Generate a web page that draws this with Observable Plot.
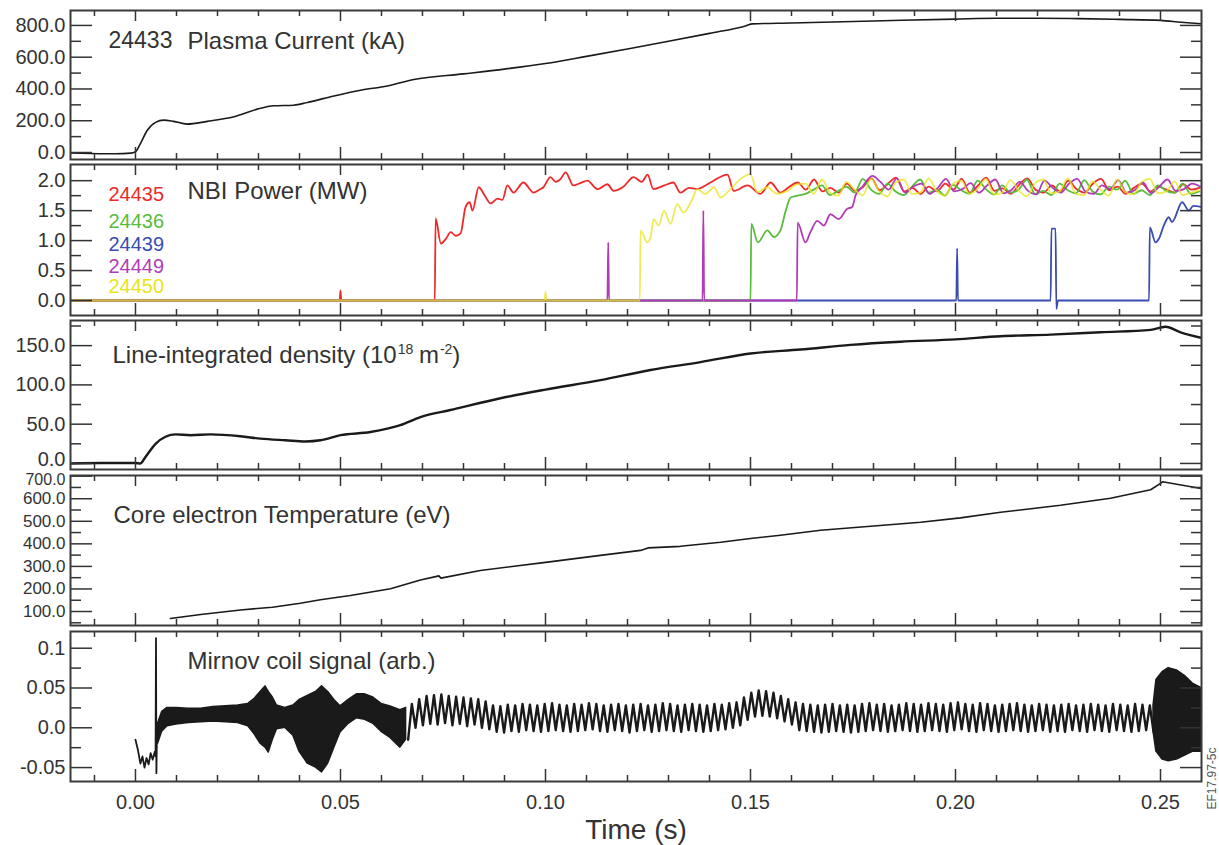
<!DOCTYPE html>
<html><head><meta charset="utf-8">
<script src="https://cdn.jsdelivr.net/npm/d3@7"></script>
<script src="https://cdn.jsdelivr.net/npm/@observablehq/plot@0.6"></script>
<style>
body{margin:0;background:#fff;}
#chart{position:relative;width:1219px;height:845px;overflow:hidden;font-family:"Liberation Sans",Arial,sans-serif;}
#chart svg{position:absolute;left:0;overflow:visible;}
</style>
</head><body><div id="chart"></div>
<script>
// ---------- shared axis data ----------
const timeDomain = [-0.01585, 0.26];
const xMajorTicks = [0, 0.05, 0.10, 0.15, 0.20, 0.25];
const xMinorTicks = [-0.01, 0.01, 0.02, 0.03, 0.04, 0.06, 0.07, 0.08, 0.09, 0.11, 0.12, 0.13, 0.14, 0.16, 0.17, 0.18, 0.19, 0.21, 0.22, 0.23, 0.24];

const plasmaTicks = [0, 200, 400, 600, 800], plasmaMinor = [100, 300, 500, 700];
const nbiTicks = [0, 0.5, 1.0, 1.5, 2.0], nbiMinor = [0.25, 0.75, 1.25, 1.75];
const densityTicks = [0, 50, 100, 150], densityMinor = [25, 75, 125, 175];
const tempTicks = [100, 200, 300, 400, 500, 600, 700], tempMinor = [50, 150, 250, 350, 450, 550, 650];
const mirnovTicks = [-0.05, 0, 0.05, 0.1], mirnovMinor = [-0.025, 0.025, 0.075];
const mirnovTickLabels = ["-0.05", "0.0", "0.05", "0.1"];

// ---------- series (time s, value) ----------
const plasmaShot = "24433";
const plasmaCurrent = [[-0.0159,-3],[-0.011,-6],[-0.0049,-8],[-0.0012,-4],[0.0,5],[0.0012,56],[0.0028,137],[0.0049,190],[0.0069,204],[0.0093,196],[0.0126,179],[0.0175,196],[0.024,225],[0.0297,273],[0.0337,294],[0.0386,298],[0.0419,315],[0.0484,356],[0.0549,392],[0.0614,419],[0.0679,460],[0.08,495],[0.09,525],[0.10,560],[0.11,605],[0.12,652],[0.13,700],[0.14,750],[0.1488,797],[0.1505,810],[0.16,815],[0.18,828],[0.20,840],[0.21,845],[0.22,845],[0.23,843],[0.24,838],[0.25,832],[0.255,820],[0.26,810]];

const nbiShots = ["24435", "24436", "24439", "24449", "24450"];
const nbiColors = ["#ee2a2a", "#58bd3c", "#3a4cb2", "#b23cb6", "#e8e41c"];
const nbi24435 = [[-0.016,0],[0.0498,0],[0.0500,0.17],[0.0502,0],[0.0730,0],[0.0732,1.37],[0.0745,0.95],[0.0757,1.03],[0.0769,1.14],[0.0781,1.08],[0.0793,1.12],[0.0805,1.56],[0.0815,1.64],[0.0822,1.50],[0.0837,1.89],[0.0852,1.75],[0.0866,1.62],[0.0883,1.70],[0.0895,1.68],[0.0907,1.92],[0.0922,1.80],[0.0946,1.97],[0.0971,1.80],[0.0985,1.85],[0.0995,1.89],[0.1012,2.06],[0.1025,1.98],[0.1037,2.03],[0.1049,2.14],[0.1068,1.92],[0.1085,1.96],[0.1102,2.00],[0.1127,1.86],[0.1151,1.94],[0.1166,1.83],[0.1190,1.90],[0.1215,2.06],[0.1235,1.98],[0.1249,2.10],[0.1263,1.86],[0.1290,1.92],[0.1312,1.97],[0.1329,1.80],[0.1350,1.88],[0.1371,1.86],[0.1390,1.92],[0.1410,2.00],[0.1444,2.10],[0.1459,1.83],[0.1493,1.92],[0.1524,1.78],[0.1549,1.97],[0.1573,1.80],[0.1595,1.90],[0.1615,1.97]];
const nbi24436 = [[-0.016,0],[0.1500,0],[0.1502,1.28],[0.1518,0.97],[0.1541,1.17],[0.1557,1.06],[0.1573,1.17],[0.1586,1.50],[0.1598,1.72],[0.1614,1.75]];
const nbi24439 = [[-0.016,0],[0.2002,0],[0.2004,0.87],[0.2006,0],[0.2232,0],[0.2234,1.20],[0.2244,1.20],[0.2246,-0.14],[0.2250,0],[0.2472,0],[0.2474,1.22],[0.2488,0.97],[0.2496,1.03],[0.2508,1.25],[0.2520,1.39],[0.2528,1.31],[0.2553,1.64],[0.2569,1.50],[0.2580,1.58],[0.2600,1.56]];
const nbi24449 = [[-0.016,0],[0.1151,0],[0.1153,0.97],[0.1155,0],[0.1383,0],[0.1385,1.50],[0.1387,0],[0.1613,0],[0.1615,1.30],[0.1634,0.97],[0.1646,1.14],[0.1663,1.33],[0.1679,1.25],[0.1695,1.44],[0.1715,1.36],[0.1736,1.53],[0.1748,1.56],[0.1756,1.75],[0.1772,1.89],[0.1797,2.08]];
const nbi24450 = [[-0.016,0],[0.0998,0],[0.1000,0.15],[0.1002,0],[0.1230,0],[0.1232,1.17],[0.1248,0.97],[0.1256,1.05],[0.1264,1.36],[0.1276,1.25],[0.1289,1.50],[0.1305,1.28],[0.1321,1.61],[0.1337,1.47],[0.1358,1.69],[0.1370,1.86],[0.1390,1.78],[0.1411,1.89],[0.1427,1.72],[0.1451,1.86],[0.1476,2.03],[0.1500,2.11],[0.1516,1.81],[0.1541,1.89],[0.1565,1.78],[0.1590,1.83],[0.1614,1.94]];
// plateau samples every 2 ms
const nbiTailStep = 0.002;
const nbiTail24435 = [1.85,2.02,1.82,1.88,1.80,1.95,1.83,1.90,2.04,1.84,1.95,2.05,1.82,1.88,1.78,1.90,1.82,1.95,1.85,2.03,1.80,1.92,2.05,1.83,1.87,1.78,1.93,2.04,1.85,1.80,1.92,1.82,2.00,1.86,1.80,1.95,2.03,1.84,1.90,1.78,1.88,1.95,1.82,1.90,1.85,1.80,1.94,1.85,1.88];
const nbiTail24436 = [1.78,1.85,1.92,1.76,1.83,1.90,1.80,2.03,1.85,1.78,1.95,1.82,1.76,1.90,2.02,1.80,1.85,1.75,1.93,1.84,1.78,2.00,1.86,1.77,1.92,1.80,1.85,2.02,1.78,1.83,1.76,1.95,1.84,1.79,2.01,1.82,1.77,1.90,1.85,2.00,1.78,1.84,1.76,1.92,1.83,1.80,1.95,1.78,1.82];
const nbiTail24449 = [1.98,1.85,2.04,1.80,1.90,1.95,1.78,1.88,2.03,1.82,1.86,1.96,1.80,1.92,2.02,1.79,1.85,1.98,1.83,1.77,2.00,1.88,1.80,1.95,2.03,1.82,1.78,1.92,1.86,2.01,1.80,1.84,1.97,1.79,1.90,2.02,1.83,1.86,1.95,1.90];
const nbiTail24450 = [1.95,1.78,2.02,1.80,1.75,1.98,1.85,1.76,2.03,1.82,1.74,1.97,2.02,1.78,1.80,2.04,1.83,1.75,1.95,2.00,1.78,1.86,2.03,1.77,1.80,2.01,1.84,1.74,1.96,2.02,1.79,1.82,2.04,1.78,1.76,1.99,1.85,1.75,2.02,1.81,1.77,1.98,2.03,1.79,1.82,1.99,1.76,1.80,1.84];

const density = [[-0.0159,0],[-0.008,0.5],[0.0,0.5],[0.0012,0],[0.0024,8],[0.0049,25],[0.0073,34],[0.0098,37],[0.0134,36],[0.0183,37],[0.0256,34.6],[0.0305,31.6],[0.0366,29.5],[0.0415,28],[0.0451,29.5],[0.050,36],[0.0573,40],[0.0646,48.7],[0.0695,59],[0.0768,68],[0.089,83],[0.10,94],[0.1134,106],[0.1256,119],[0.1378,129],[0.15,140],[0.1622,145],[0.1744,151],[0.1866,155],[0.20,158],[0.211,162],[0.2232,164],[0.2354,167],[0.2476,170],[0.2512,174],[0.2549,167],[0.26,160]];

const temperature = [[0.0085,69],[0.0159,87],[0.0256,107],[0.0334,119],[0.0402,137],[0.0451,152],[0.0524,171],[0.0622,201],[0.0695,240],[0.0740,258],[0.0745,248],[0.0841,282],[0.10,318],[0.1134,349],[0.1232,371],[0.1250,382],[0.1329,389],[0.1427,407],[0.15,424],[0.1573,438],[0.1671,460],[0.1793,478],[0.1915,496],[0.2012,515],[0.211,540],[0.2256,571],[0.2378,602],[0.2476,640],[0.2500,668],[0.2505,675],[0.26,645]];

// Mirnov coil: start trace, noisy envelope (t, low, high), oscillation extremes (x1e-3, every 0.9 ms), end envelope
const mirnovStart = [[0.0,-0.015],[0.0006,-0.028],[0.0012,-0.045],[0.0017,-0.036],[0.0022,-0.05],[0.0027,-0.038],[0.0032,-0.046],[0.0037,-0.032],[0.0042,-0.04],[0.0047,-0.03],[0.0049,-0.036],[0.0050,0.1125],[0.0051,-0.057],[0.0052,-0.02],[0.0055,-0.005]];
const mirnovBand = [[0.0055,-0.02,0.005],[0.0065,-0.005,0.02],[0.0078,0.002,0.025],[0.010,0.004,0.025],[0.013,0.006,0.024],[0.016,0.007,0.024],[0.019,0.008,0.026],[0.022,0.007,0.027],[0.025,0.006,0.028],[0.0275,0.002,0.030],[0.029,-0.008,0.036],[0.0305,-0.02,0.045],[0.0317,-0.025,0.052],[0.0325,-0.031,0.045],[0.0335,-0.015,0.038],[0.0345,-0.002,0.028],[0.0365,0.0,0.025],[0.0385,-0.01,0.028],[0.040,-0.03,0.035],[0.042,-0.045,0.04],[0.044,-0.05,0.045],[0.0455,-0.056,0.052],[0.047,-0.045,0.045],[0.0485,-0.025,0.035],[0.050,-0.006,0.027],[0.052,0.005,0.035],[0.054,0.012,0.042],[0.056,0.01,0.042],[0.058,0.005,0.038],[0.060,-0.005,0.03],[0.062,-0.012,0.027],[0.0646,-0.025,0.022],[0.066,-0.015,0.025]];
const mirnovOscT0 = 0.0665, mirnovOscStep = 0.0009;
const mirnovOsc = [-15,30,0,36,3,40,5,41,4,42,6,40,3,39,5,38,2,37,4,36,0,33,-2,
28,-5,27,-6,29,-4,28,-5,30,-3,29,-4,28,-5,30,-4,31,-3,29,-4,28,-5,30,-4,29,-3,31,-2,30,-4,28,-5,29,-3,30,-4,28,-6,29,-4,30,-3,28,-5,29,-4,31,-3,30,-4,28,-5,29,-3,30,-4,29,-5,28,-4,30,-3,29,-2,31,0,32,3,
38,10,44,14,47,15,46,14,44,12,40,8,36,4,
32,-3,30,-4,29,-5,28,-6,29,-5,30,-4,28,-5,29,-6,28,-5,30,-4,31,-3,29,-4,30,-5,28,-4,29,-3,31,-4,30,-5,29,-4,31,-3,30,-4,29,-5,31,-3,32,-2,30,-4,29,-5,31,-3,30,-4,28,-5,29,-4,30,-3,31,-4,29,-5,28,-4,30,-3,29,-5,28,-4,29,-5,30,-3,28,-4,29,-5,30,-3,29,-4,28,-5,30,-3,29,-4,28,-5,30,-4,29,-3,28,-5];
const mirnovEnd = [[0.2483,-0.005,0.028],[0.249,-0.03,0.06],[0.2505,-0.04,0.07],[0.252,-0.042,0.075],[0.254,-0.04,0.072],[0.256,-0.035,0.065],[0.258,-0.03,0.055],[0.26,-0.03,0.05]];

// ---------- build ----------
const tailOf = (head, tail) => head.concat(tail.map((v, i) => [Math.round((head[head.length-1][0] + (i + 1) * nbiTailStep) * 1e4) / 1e4, v]));
const nbiSeries = [
  tailOf(nbi24435, nbiTail24435),
  tailOf(nbi24436, nbiTail24436),
  nbi24439,
  tailOf(nbi24449, nbiTail24449),
  tailOf(nbi24450, nbiTail24450)
];
const mirnovOscPts = mirnovOsc.map((v, i) => [mirnovOscT0 + i * mirnovOscStep, v / 1000]);

const FONT = '"Liberation Sans", Arial, sans-serif';
const INK = "#333";
const canvas = document.createElement("canvas").getContext("2d");
function textWidth(s, size) { canvas.font = `${size}px ${FONT}`; return canvas.measureText(s).width; }

const X = d => d[0], Y = d => d[1];
const tickStyle = {stroke: INK, strokeWidth: 1.5, fill: "none", label: null};
const f1 = d3.format(".1f");

function tickLabels(ticks, fmt, fontSize, dy = 0) {
  return Plot.axisY({anchor: "left", ticks, tickSize: 0, tickPadding: 5, tickFormat: fmt, fontSize, fill: INK, label: null, dy});
}
function frameMarks(yMajor, yMinor) {
  return [
    Plot.axisX({...tickStyle, anchor: "bottom", ticks: xMajorTicks, tickSize: 12, dy: -12}),
    Plot.axisX({...tickStyle, anchor: "bottom", ticks: xMinorTicks, tickSize: 6, dy: -6}),
    Plot.axisX({...tickStyle, anchor: "top", ticks: xMajorTicks, tickSize: 10, dy: 10}),
    Plot.axisX({...tickStyle, anchor: "top", ticks: xMinorTicks, tickSize: 5, dy: 5}),
    Plot.axisY({...tickStyle, anchor: "left", ticks: yMajor, tickSize: 22, dx: 22}),
    Plot.axisY({...tickStyle, anchor: "left", ticks: yMinor, tickSize: 11, dx: 11}),
    Plot.axisY({...tickStyle, anchor: "right", ticks: yMajor, tickSize: 22, dx: -22}),
    Plot.axisY({...tickStyle, anchor: "right", ticks: yMinor, tickSize: 11, dx: -11})
  ];
}
function label(s, dx, dy, size, fill = INK, extra = {}) {
  return Plot.text([s], {text: d => d, frameAnchor: "top-left", textAnchor: "start", lineAnchor: "bottom", dx, dy, fontSize: size, fill, ...extra});
}
const smooth = "monotone-x";

const panels = [
  {frame: [10, 159], domain: [-44, 894], major: plasmaTicks, minor: plasmaMinor,
   marks: [
     Plot.line(plasmaCurrent, {x: X, y: Y, stroke: "#1a1a1a", strokeWidth: 1.6, curve: smooth, clip: true}),
     label(plasmaShot, 38, 37, 23, INK, {letterSpacing: "-1.3px"}),
     label("Plasma Current (kA)", 117, 38, 24),
     tickLabels(plasmaTicks, f1, 20)
   ]},
  {frame: [164, 315], domain: [-0.25, 2.27], major: nbiTicks, minor: nbiMinor,
   marks: [
     ...[2, 0, 1, 3, 4].map(k => Plot.line(nbiSeries[k], {x: X, y: Y, stroke: nbiColors[k], strokeWidth: 1.8, strokeOpacity: k === 4 ? 0.75 : 1, curve: smooth, clip: true})),
     label("NBI Power (MW)", 117, 34, 24),
     ...nbiShots.map((s, k) => label(s, 38, [36, 63, 86, 108, 128][k], 20, nbiColors[k])),
     tickLabels(nbiTicks, f1, 20)
   ]},
  {frame: [320, 469], domain: [-7.7, 182], major: densityTicks, minor: densityMinor,
   marks: (() => {
     const base = "Line-integrated density (10", s1 = "18", mid = " m", s2 = "-2", end = ")";
     const x0 = 42, big = 24, small = 14;
     const x1 = x0 + textWidth(base, big), x2 = x1 + textWidth(s1, small), x3 = x2 + textWidth(mid, big), x4 = x3 + textWidth(s2, small);
     return [
       Plot.line(density, {x: X, y: Y, stroke: "#1a1a1a", strokeWidth: 2.4, curve: smooth, clip: true}),
       label(base, x0, 42, big), label(s1, x1 + 1, 33, small), label(mid, x2, 42, big), label(s2, x3 + 1, 33, small), label(end, x4 + 1, 42, big),
       tickLabels(densityTicks.slice(1), f1, 20),
       tickLabels(densityTicks.slice(0, 1), f1, 20, -4)
     ];
   })()},
  {frame: [475, 625], domain: [38, 703], major: tempTicks, minor: tempMinor,
   marks: [
     Plot.line(temperature, {x: X, y: Y, stroke: "#1a1a1a", strokeWidth: 1.6, clip: true}),
     label("Core electron Temperature (eV)", 43, 47, 24),
     tickLabels(tempTicks.slice(0, -1), f1, 17),
     tickLabels(tempTicks.slice(-1), f1, 16, 4)
   ]},
  {frame: [631, 781], domain: [-0.0675, 0.121], major: mirnovTicks, minor: mirnovMinor, bottom: 64,
   marks: [
     Plot.areaY(mirnovBand, {x: X, y1: d => d[1], y2: d => d[2], fill: "#1a1a1a", stroke: "#1a1a1a", strokeWidth: 1.5, clip: true}),
     Plot.areaY(mirnovEnd, {x: X, y1: d => d[1], y2: d => d[2], fill: "#1a1a1a", stroke: "#1a1a1a", strokeWidth: 1.5, clip: true}),
     Plot.line(mirnovStart, {x: X, y: Y, stroke: "#1a1a1a", strokeWidth: 1.8, clip: true}),
     Plot.line(mirnovOscPts, {x: X, y: Y, stroke: "#1a1a1a", strokeWidth: 2.4, clip: true}),
     label("Mirnov coil signal (arb.)", 117, 37, 24),
     tickLabels(mirnovTicks, d => mirnovTickLabels[mirnovTicks.indexOf(d)], 20),
     Plot.axisX({anchor: "bottom", ticks: xMajorTicks, tickSize: 0, tickPadding: 13, tickFormat: d3.format(".2f"), fontSize: 20, fill: INK, label: null}),
     Plot.text(["Time (s)"], {text: d => d, frameAnchor: "bottom", lineAnchor: "bottom", dy: 57, fontSize: 28, fill: INK}),
     Plot.text(["EF17.97-5c"], {text: d => d, frameAnchor: "right", dx: 11, dy: 41, rotate: -90, fontSize: 12, fill: "#555"})
   ]}
];

const chart = document.getElementById("chart");
for (const p of panels) {
  const mt = 2, mb = p.bottom ?? 2;
  const svg = Plot.plot({
    width: 1219,
    height: (p.frame[1] - p.frame[0]) + mt + mb,
    marginLeft: 70, marginRight: 18, marginTop: mt, marginBottom: mb,
    x: {domain: timeDomain},
    y: {domain: p.domain},
    style: {fontFamily: FONT, color: INK, background: "transparent"},
    marks: [
      ...p.marks,
      ...frameMarks(p.major, p.minor),
      Plot.frame({stroke: "#3a3a3a", strokeWidth: 2})
    ]
  });
  svg.style.top = (p.frame[0] - mt) + "px";
  chart.appendChild(svg);
}
</script></body></html>
